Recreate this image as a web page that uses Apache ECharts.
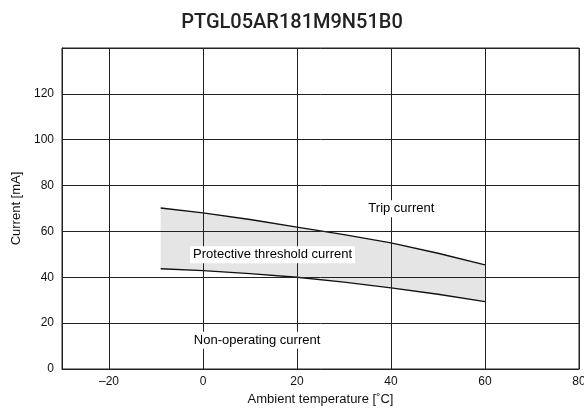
<!DOCTYPE html>
<html>
<head>
<meta charset="utf-8">
<script src="https://cdn.jsdelivr.net/npm/echarts@6/dist/echarts.min.js"></script>
<style>html,body{margin:0;padding:0;background:#fff}#c{width:584px;height:408px}</style>
</head>
<body>
<div id="c"></div>
<script>
const titleText = 'PTGL05AR181M9N51B0';
const temps = [-9, 0, 10, 20, 30, 40, 50, 60];
const tripCurrent = [70.2, 68.1, 65.2, 61.9, 58.6, 55.0, 50.5, 45.4];
const nonOperating = [43.7, 42.9, 41.6, 40.0, 37.9, 35.4, 32.6, 29.4];
const annotations = [
  {name: 'Trip current', x: 42.2, y: 69.9},
  {name: 'Protective threshold current', x: 14.8, y: 49.8},
  {name: 'Non-operating current', x: 11.5, y: 12.5}
];

const font = "'Liberation Sans', Arial, sans-serif";
const chart = echarts.init(document.getElementById('c'), null, {renderer: 'canvas'});
chart.setOption({
  animation: false,
  backgroundColor: '#fff',
  title: {
    text: titleText, left: 'center', top: 8,
    textStyle: {fontFamily: 'Roboto', fontWeight: 500, fontSize: 20, color: '#222'}
  },
  grid: {left: 62, right: 5, top: 48, bottom: 39, show: true, borderColor: '#222', borderWidth: 1,
    backgroundColor: 'transparent', containLabel: false, outerBoundsMode: 'none'},
  xAxis: {
    type: 'value', min: -30, max: 80, splitNumber: 5, z: 3,
    name: 'Ambient temperature [˚C]', nameLocation: 'middle', nameGap: 21,
    nameTextStyle: {fontFamily: font, fontSize: 13, color: '#111'},
    axisLine: {show: true, onZero: false, lineStyle: {color: '#222', width: 1}},
    axisTick: {show: false},
    axisLabel: {showMinLabel: false, fontFamily: font, fontSize: 12, color: '#111', margin: 7,
      formatter: v => String(v).replace('-', '\u2013')},
    splitLine: {show: true, lineStyle: {color: '#222', width: 1}}
  },
  yAxis: {
    type: 'value', min: 0, max: 140, interval: 20, z: 3,
    name: 'Current [mA]', nameLocation: 'middle', nameGap: 39, nameRotate: 90,
    nameTextStyle: {fontFamily: font, fontSize: 13, color: '#111'},
    axisLine: {show: true, onZero: false, lineStyle: {color: '#222', width: 1}},
    axisTick: {show: false},
    axisLabel: {showMaxLabel: false, fontFamily: font, fontSize: 12, color: '#111', margin: 8},
    splitLine: {show: true, lineStyle: {color: '#222', width: 1}}
  },
  series: [
    {
      name: 'band', type: 'custom', z: 1, silent: true,
      data: [0],
      renderItem: (params, api) => {
        const upper = temps.map((t, i) => api.coord([t, tripCurrent[i]]));
        const lower = temps.map((t, i) => api.coord([t, nonOperating[i]])).reverse();
        return {type: 'polygon', shape: {points: upper.concat(lower)}, style: {fill: '#e5e5e5', stroke: null}};
      }
    },
    {
      name: 'Non-operating current', type: 'line', z: 2,
      data: temps.map((t, i) => [t, nonOperating[i]]),
      symbol: 'none', lineStyle: {color: '#111', width: 1.4}
    },
    {
      name: 'Trip current', type: 'line', z: 2,
      data: temps.map((t, i) => [t, tripCurrent[i]]),
      symbol: 'none', lineStyle: {color: '#111', width: 1.4}
    },
    {
      name: 'labels', type: 'scatter', z: 10, symbolSize: 1, silent: true,
      itemStyle: {color: 'rgba(0,0,0,0)'},
      data: annotations.map(a => ({name: a.name, value: [a.x, a.y]})),
      label: {
        show: true, position: 'inside', align: 'center', verticalAlign: 'middle',
        formatter: p => p.name,
        fontFamily: font, fontSize: 13, color: '#000', opacity: 1,
        backgroundColor: '#fff', padding: [2, 3]
      },
      labelLayout: {hideOverlap: false}
    }
  ]
});
</script>
</body>
</html>
